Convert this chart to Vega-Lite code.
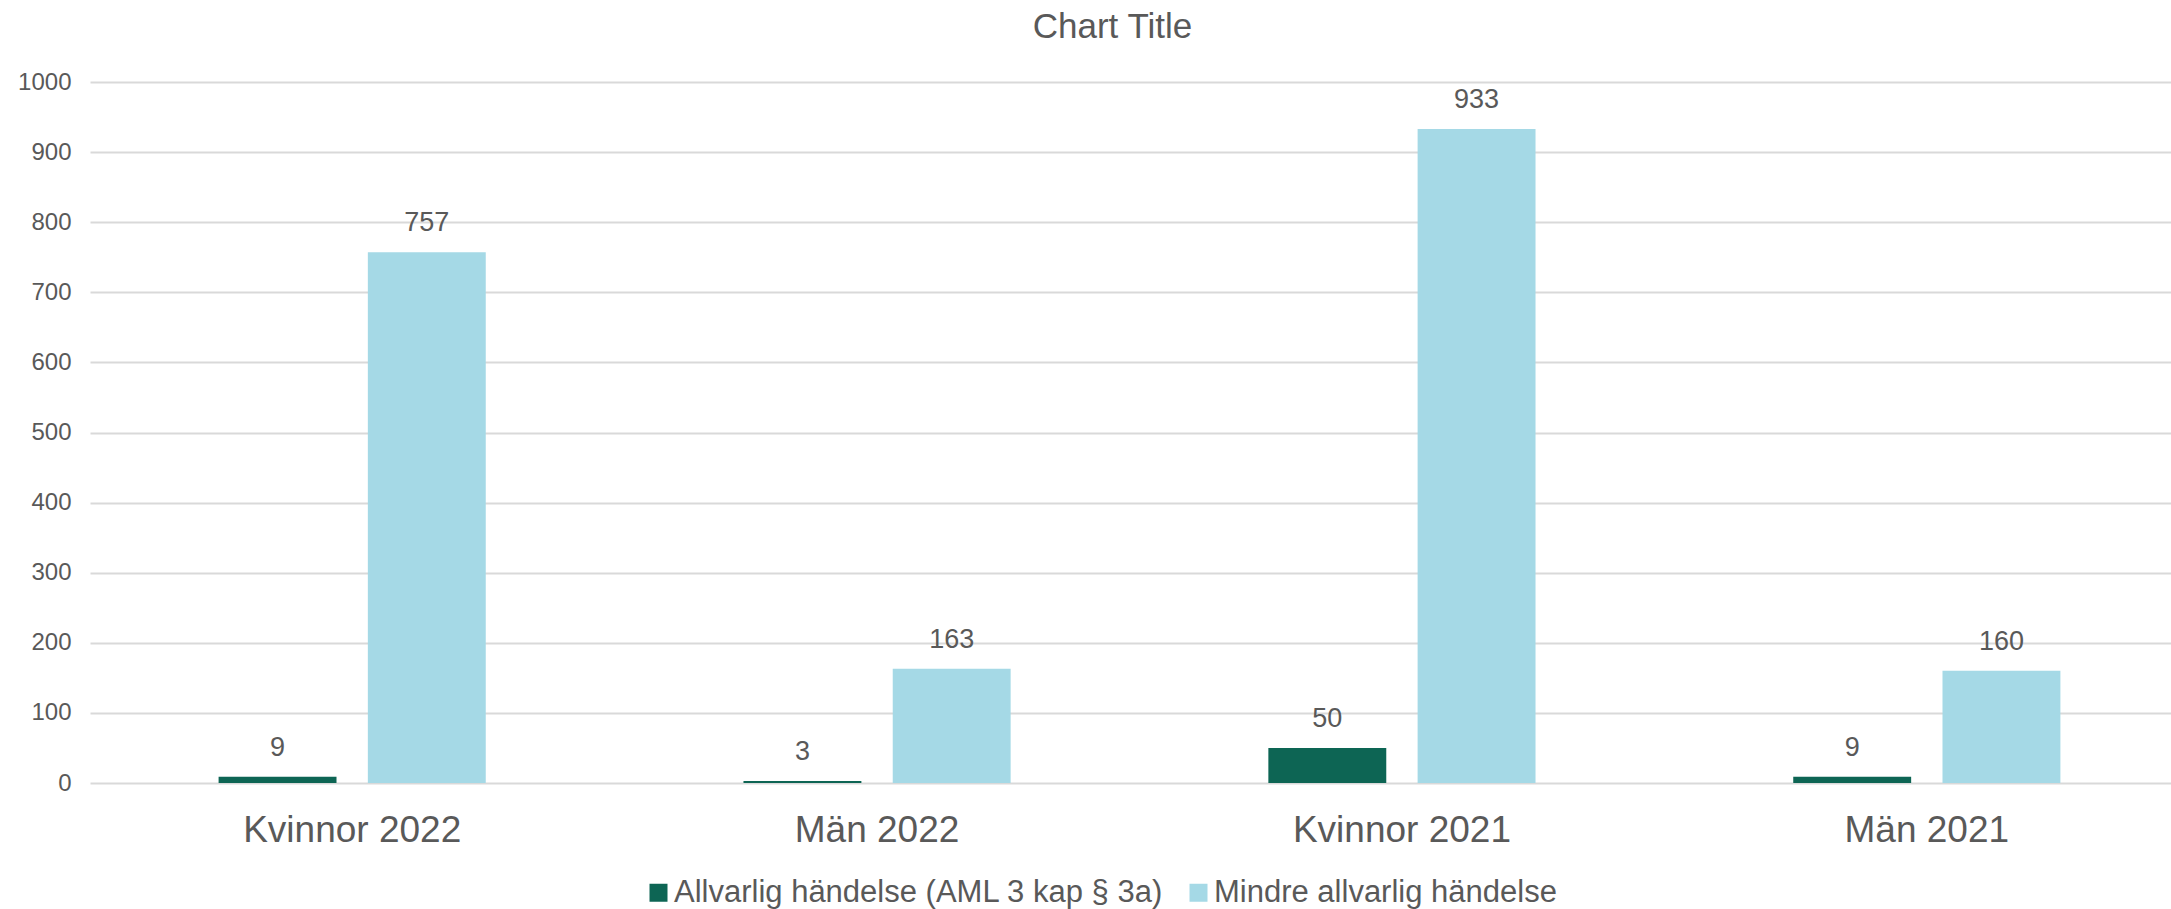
{
  "$schema": "https://vega.github.io/schema/vega-lite/v6.json",
  "width": 2081,
  "height": 701,
  "autosize": "none",
  "padding": {"left": 90, "top": 82, "right": 0, "bottom": 126},
  "background": "white",
  "title": {
    "text": "Chart Title",
    "anchor": "middle",
    "frame": "group",
    "fontSize": 35,
    "fontWeight": "normal",
    "font": "Liberation Sans",
    "color": "#595959",
    "baseline": "alphabetic",
    "offset": -3,
    "dx": -18
  },
  "config": {
    "font": "Liberation Sans",
    "view": {"stroke": null}
  },
  "data": {
    "values": [
      {"grupp": "Kvinnor 2022", "typ": "Allvarlig händelse (AML 3 kap § 3a)", "antal": 9},
      {"grupp": "Kvinnor 2022", "typ": "Mindre allvarlig händelse", "antal": 757},
      {"grupp": "Män 2022", "typ": "Allvarlig händelse (AML 3 kap § 3a)", "antal": 3},
      {"grupp": "Män 2022", "typ": "Mindre allvarlig händelse", "antal": 163},
      {"grupp": "Kvinnor 2021", "typ": "Allvarlig händelse (AML 3 kap § 3a)", "antal": 50},
      {"grupp": "Kvinnor 2021", "typ": "Mindre allvarlig händelse", "antal": 933},
      {"grupp": "Män 2021", "typ": "Allvarlig händelse (AML 3 kap § 3a)", "antal": 9},
      {"grupp": "Män 2021", "typ": "Mindre allvarlig händelse", "antal": 160}
    ]
  },
  "encoding": {
    "x": {
      "field": "grupp",
      "type": "nominal",
      "sort": null,
      "scale": {"range": [0, 2099], "paddingInner": 0.491, "paddingOuter": 0.245},
      "axis": {
        "title": null,
        "labelAngle": 0,
        "labelFontSize": 37,
        "labelColor": "#595959",
        "labelPadding": 29,
        "labelLimit": 0,
        "ticks": false,
        "domain": false,
        "grid": false,
        "labelBaseline": "top"
      }
    },
    "xOffset": {
      "field": "typ",
      "type": "nominal",
      "sort": null,
      "scale": {"paddingInner": 0.21, "paddingOuter": 0}
    },
    "y": {
      "field": "antal",
      "type": "quantitative",
      "scale": {"domain": [0, 1000], "nice": false},
      "axis": {
        "title": null,
        "values": [0, 100, 200, 300, 400, 500, 600, 700, 800, 900, 1000],
        "format": "d",
        "labelFontSize": 24,
        "labelColor": "#595959",
        "labelPadding": 19,
        "ticks": false,
        "domain": false,
        "grid": true,
        "gridColor": "#D9D9D9",
        "gridWidth": 2
      }
    }
  },
  "layer": [
    {
      "mark": {"type": "bar"},
      "encoding": {
        "color": {
          "field": "typ",
          "type": "nominal",
          "sort": null,
          "scale": {"range": ["#0D6554", "#A5D9E6"]},
          "legend": {
            "title": null,
            "orient": "none",
            "direction": "horizontal",
            "legendX": 553,
            "legendY": 795,
            "symbolType": "square",
            "symbolSize": 324,
            "symbolStrokeWidth": 0,
            "labelFontSize": 31,
            "labelColor": "#595959",
            "labelOffset": 0,
            "labelLimit": 0,
            "columnPadding": 19,
            "padding": 0
          }
        }
      }
    },
    {
      "mark": {"type": "text", "baseline": "alphabetic", "dy": -21, "fontSize": 27, "color": "#595959"},
      "encoding": {
        "text": {"field": "antal", "type": "quantitative"}
      }
    }
  ]
}
